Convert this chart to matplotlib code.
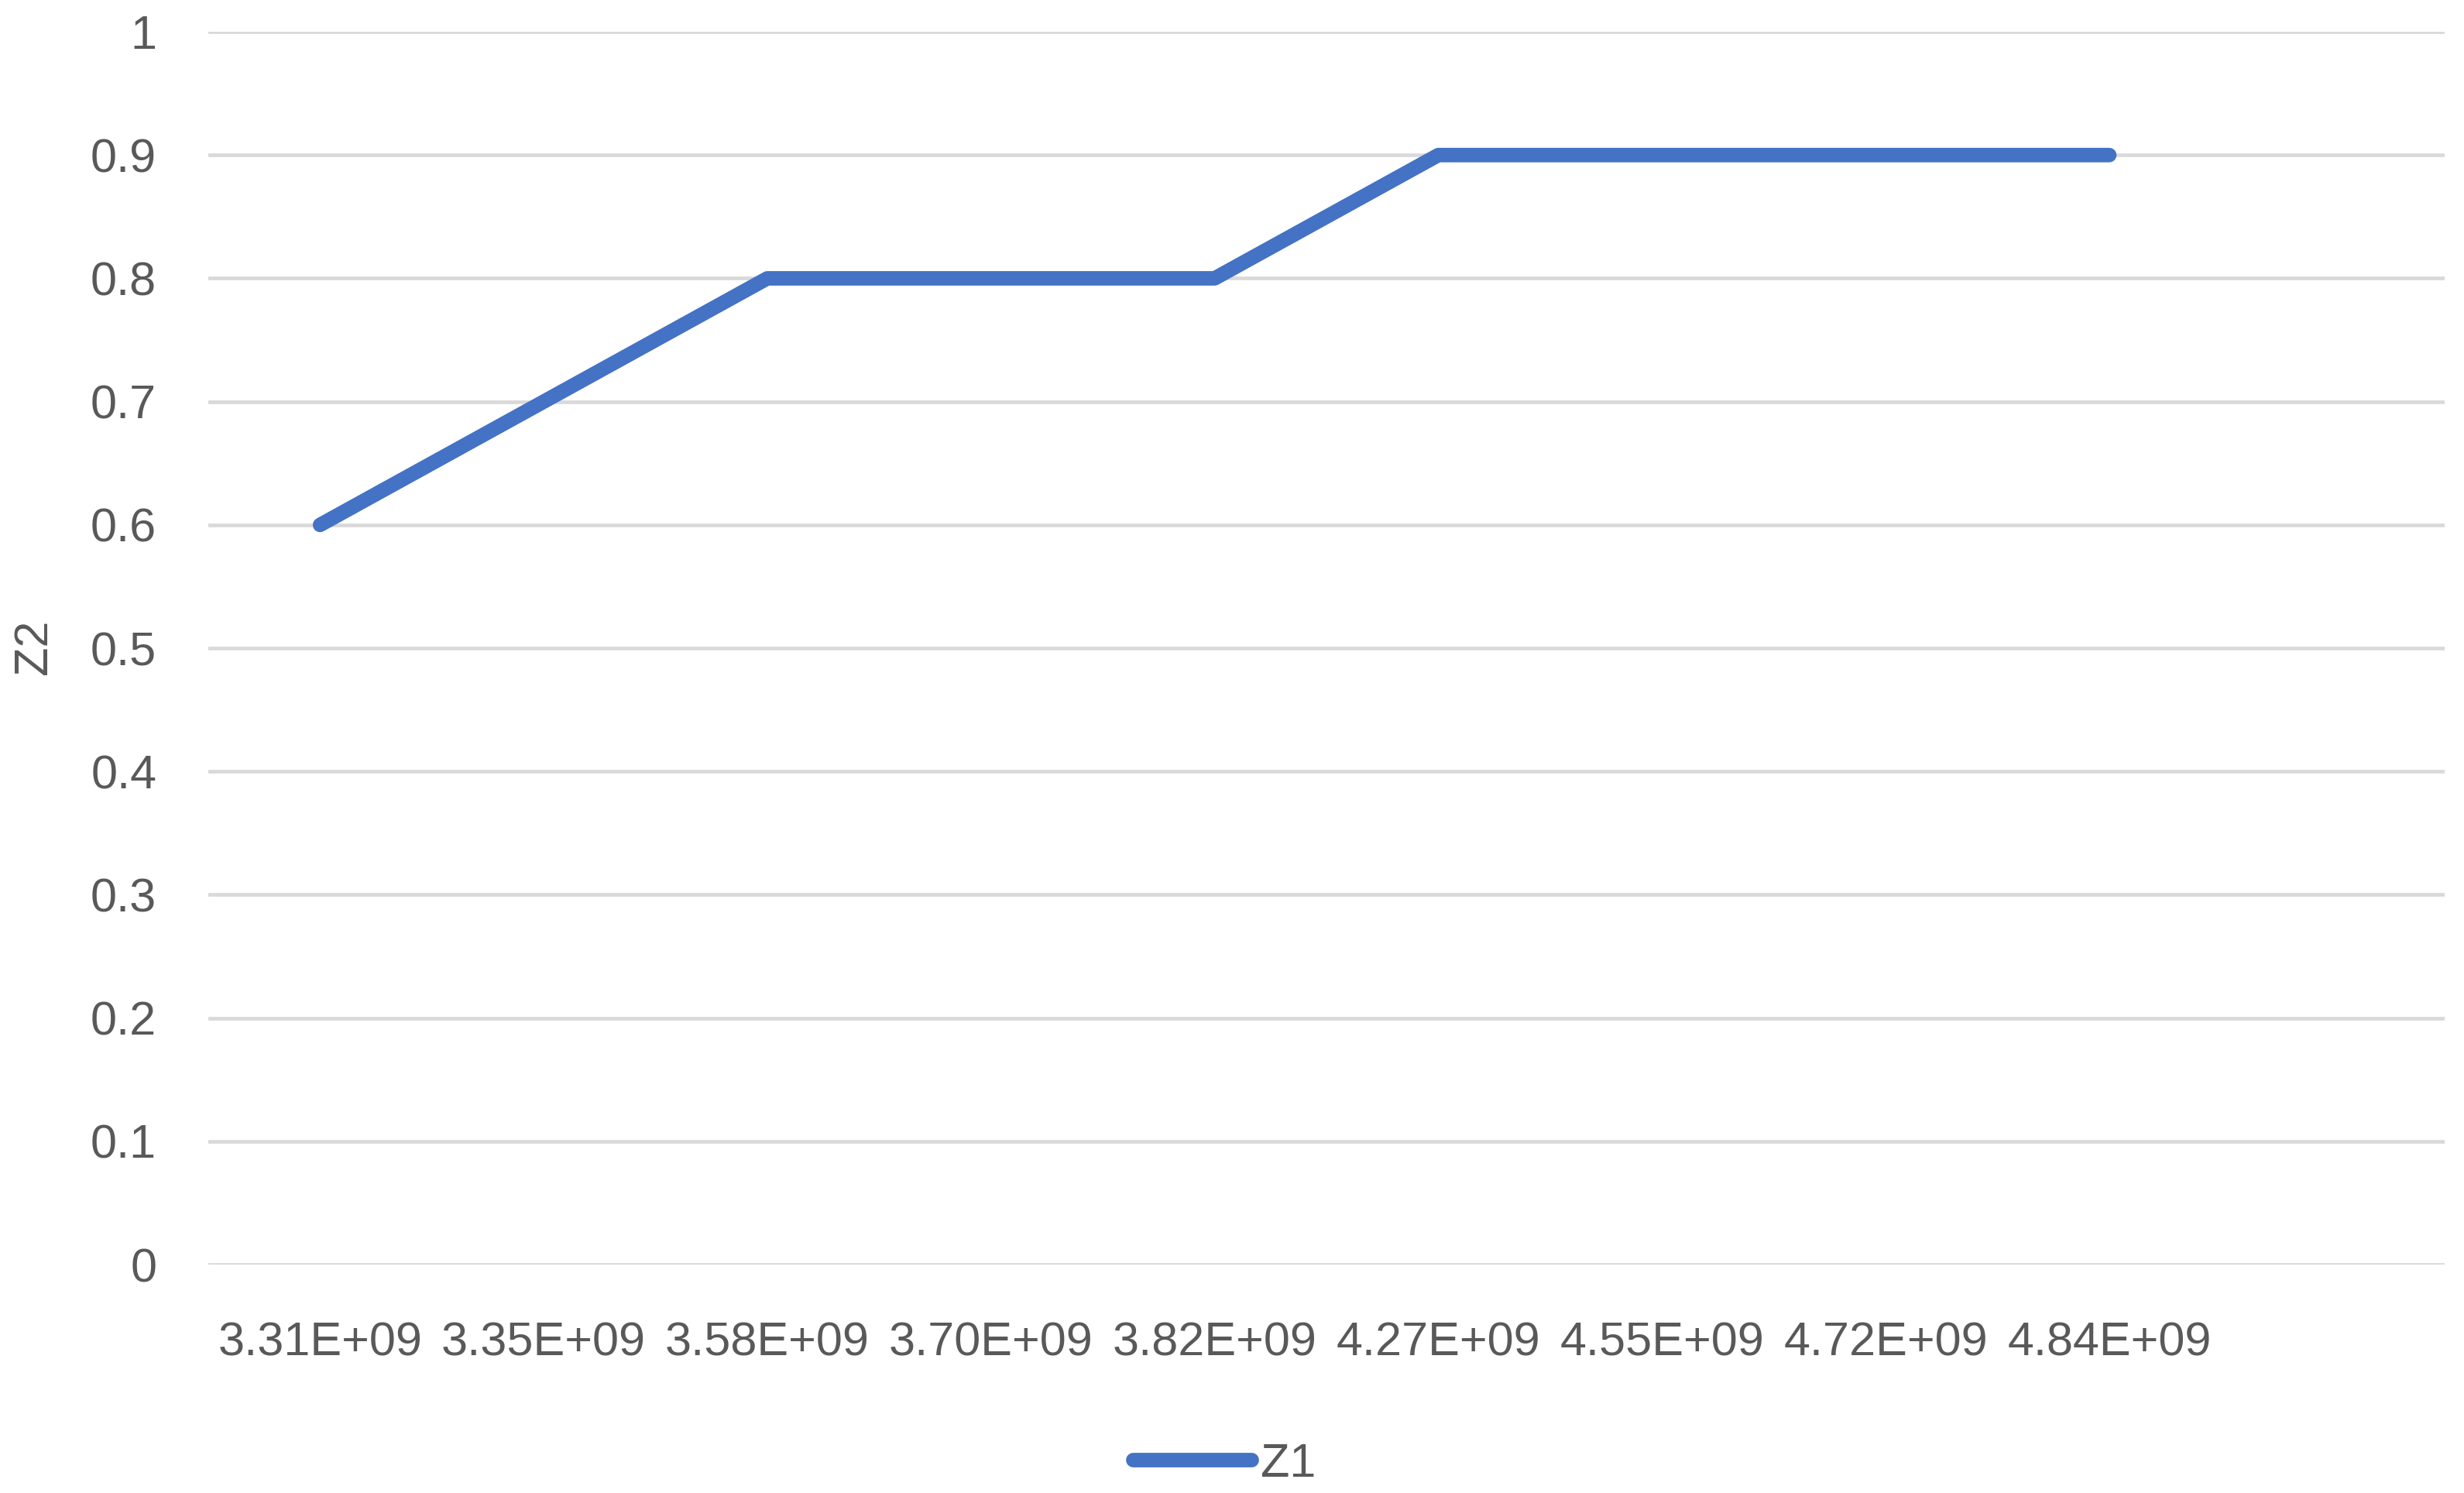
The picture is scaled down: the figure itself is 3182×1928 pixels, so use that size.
import numpy as np
import matplotlib
matplotlib.use("Agg")
import matplotlib.pyplot as plt

# Dados do gráfico (eixo de categorias, estilo Excel)
categorias = ["3.31E+09", "3.35E+09", "3.58E+09", "3.70E+09", "3.82E+09",
              "4.27E+09", "4.55E+09", "4.72E+09", "4.84E+09", ""]
valores_z1 = [0.6, 0.7, 0.8, 0.8, 0.8, 0.9, 0.9, 0.9, 0.9]
yticks = [0, 0.1, 0.2, 0.3, 0.4, 0.5, 0.6, 0.7, 0.8, 0.9, 1]
ytick_labels = ["0", "0.1", "0.2", "0.3", "0.4", "0.5", "0.6", "0.7", "0.8", "0.9", "1"]

plt.rcParams["font.family"] = ["Liberation Sans", "DejaVu Sans"]
cor_texto = "#595959"
tam_fonte = 44

fig = plt.figure(figsize=(31.82, 19.28), dpi=100)
ax = fig.add_axes([0.0845, 0.153, 0.9077, 0.8257])

x = np.arange(len(valores_z1))
ax.plot(x, valores_z1, color="#4472C4", linewidth=13.5,
        solid_capstyle="round", solid_joinstyle="round", label="Z1", zorder=3)

ax.set_xlim(-0.5, len(categorias) - 0.5)
ax.set_ylim(0, 1)
ax.set_xticks(np.arange(len(categorias)))
ax.set_xticklabels(categorias)
ax.set_yticks(yticks)
ax.set_yticklabels(ytick_labels)

ax.grid(axis="y", color="#D9D9D9", linewidth=3.4, zorder=0)
for s in ax.spines.values():
    s.set_visible(False)
ax.tick_params(axis="both", length=0, labelsize=tam_fonte, colors=cor_texto)
ax.tick_params(axis="y", pad=48)
ax.tick_params(axis="x", pad=53)

fig.text(45 / 3182, 0.567, "Z2", rotation=90, ha="center", va="center",
         fontsize=tam_fonte, color=cor_texto)

leg = fig.legend(loc="center", bbox_to_anchor=(0.497, 0.019), frameon=False,
                 fontsize=tam_fonte, handlelength=2.5, handletextpad=0.2)
for t in leg.get_texts():
    t.set_color(cor_texto)

fig.savefig("out.png", dpi=100, facecolor="white")
